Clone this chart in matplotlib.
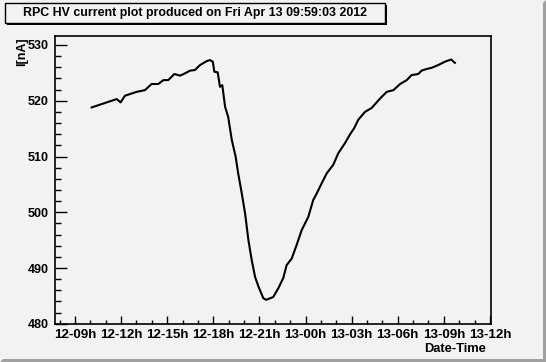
import pandas as pd
import matplotlib.pyplot as plt
import matplotlib.dates as mdates
from matplotlib.ticker import MultipleLocator
from matplotlib.patches import Rectangle, Polygon

# HV current readings
times = [
    "2012-04-12 10:05", "2012-04-12 10:57", "2012-04-12 11:43", "2012-04-12 11:58",
    "2012-04-12 12:15", "2012-04-12 13:01", "2012-04-12 13:33", "2012-04-12 13:59",
    "2012-04-12 14:25", "2012-04-12 14:45", "2012-04-12 15:04", "2012-04-12 15:28",
    "2012-04-12 15:50", "2012-04-12 16:09", "2012-04-12 16:29", "2012-04-12 16:48",
    "2012-04-12 17:08", "2012-04-12 17:34", "2012-04-12 17:47", "2012-04-12 17:58",
    "2012-04-12 18:04", "2012-04-12 18:17", "2012-04-12 18:26", "2012-04-12 18:35",
    "2012-04-12 18:46", "2012-04-12 18:58", "2012-04-12 19:12", "2012-04-12 19:27",
    "2012-04-12 19:37", "2012-04-12 19:51", "2012-04-12 20:04", "2012-04-12 20:17",
    "2012-04-12 20:30", "2012-04-12 20:43", "2012-04-12 20:56", "2012-04-12 21:15",
    "2012-04-12 21:26", "2012-04-12 21:54", "2012-04-12 22:14", "2012-04-12 22:33",
    "2012-04-12 22:46", "2012-04-12 23:06", "2012-04-12 23:25", "2012-04-12 23:45",
    "2012-04-13 00:11", "2012-04-13 00:30", "2012-04-13 00:44", "2012-04-13 01:03",
    "2012-04-13 01:23", "2012-04-13 01:48", "2012-04-13 02:08", "2012-04-13 02:34",
    "2012-04-13 02:54", "2012-04-13 03:10", "2012-04-13 03:26", "2012-04-13 03:52",
    "2012-04-13 04:18", "2012-04-13 04:51", "2012-04-13 05:17", "2012-04-13 05:43",
    "2012-04-13 06:09", "2012-04-13 06:35", "2012-04-13 06:54", "2012-04-13 07:20",
    "2012-04-13 07:33", "2012-04-13 07:53", "2012-04-13 08:12", "2012-04-13 08:38",
    "2012-04-13 09:04", "2012-04-13 09:28", "2012-04-13 09:43",
]
current = [
    518.8, 519.6, 520.3, 519.7,
    520.9, 521.6, 521.9, 523.0,
    523.0, 523.7, 523.7, 524.8,
    524.5, 524.9, 525.4, 525.5,
    526.4, 527.1, 527.3, 527.0,
    525.2, 525.1, 522.5, 522.8,
    518.9, 517.1, 513.0, 510.0,
    507.0, 503.4, 499.8, 495.0,
    491.4, 488.4, 486.7, 484.6,
    484.3, 484.8, 486.4, 488.2,
    490.5, 491.7, 494.1, 496.8,
    499.2, 502.2, 503.4, 505.2,
    507.0, 508.5, 510.6, 512.4,
    514.0, 515.1, 516.6, 518.0,
    518.7, 520.4, 521.6, 521.9,
    523.0, 523.7, 524.6, 524.8,
    525.4, 525.7, 525.9, 526.4,
    527.0, 527.4, 526.8,
]

title = "RPC HV current plot produced on Fri Apr 13 09:59:03 2012"

bg = '#f2f2f2'
plt.rcParams['font.family'] = ['Liberation Sans', 'DejaVu Sans']
plt.rcParams['font.weight'] = 'bold'

W, H = 546, 362
fig = plt.figure(figsize=(W / 100, H / 100), dpi=100, facecolor=bg)

# canvas bevel
fig.patches.append(Polygon([(0, 0), (W, 0), (W, H), (W - 3, H - 3), (W - 3, 3), (3, 3)],
                           closed=True, transform=None, facecolor='#a0a0a0', edgecolor='none'))

ax = fig.add_axes([54.5 / W, 1 - 323.8 / H, (491 - 54.5) / W, (323.8 - 35.5) / H])
ax.set_facecolor(bg)

t = pd.to_datetime(times)
ax.plot(t, current, color='black', lw=1.5)

ax.set_xlim(pd.Timestamp("2012-04-12 07:40"), pd.Timestamp("2012-04-13 12:04"))
ax.set_ylim(480, 531.7)

ax.xaxis.set_major_locator(mdates.HourLocator(byhour=range(0, 24, 3)))
ax.xaxis.set_minor_locator(mdates.HourLocator())
ax.xaxis.set_major_formatter(mdates.DateFormatter('%d-%Hh'))
ax.yaxis.set_major_locator(MultipleLocator(10))
ax.yaxis.set_minor_locator(MultipleLocator(2))

ax.tick_params(axis='both', which='both', direction='in', top=False, right=False, width=1)
ax.tick_params(axis='y', which='major', length=8.6, pad=4, labelsize=9)
ax.tick_params(axis='y', which='minor', length=4.3)
ax.tick_params(axis='x', which='major', length=5.8, pad=4, labelsize=9.6)
ax.tick_params(axis='x', which='minor', length=2.9)
for lab in ax.get_xticklabels() + ax.get_yticklabels():
    lab.set_fontweight('bold')
for s in ax.spines.values():
    s.set_linewidth(1.2)

fig.text(22 / W, 1 - 37 / H, 'I[nA]', rotation=90, ha='center', va='top',
         fontsize=9, fontweight='bold')
fig.text(486 / W, 1 - 349 / H, 'Date-Time', ha='right', va='center',
         fontsize=9.3, fontweight='bold')

# title box with shadow
fig.patches.append(Rectangle((7, H - 25), 380, 20, transform=None,
                             facecolor='black', edgecolor='none'))
fig.patches.append(Rectangle((5, H - 23), 380, 20, transform=None,
                             facecolor=bg, edgecolor='black', lw=1))
fig.text(195 / W, 1 - 13 / H, title, ha='center', va='center',
         fontsize=8.9, fontweight='bold')

fig.savefig('out.png', dpi=100, facecolor=bg)
